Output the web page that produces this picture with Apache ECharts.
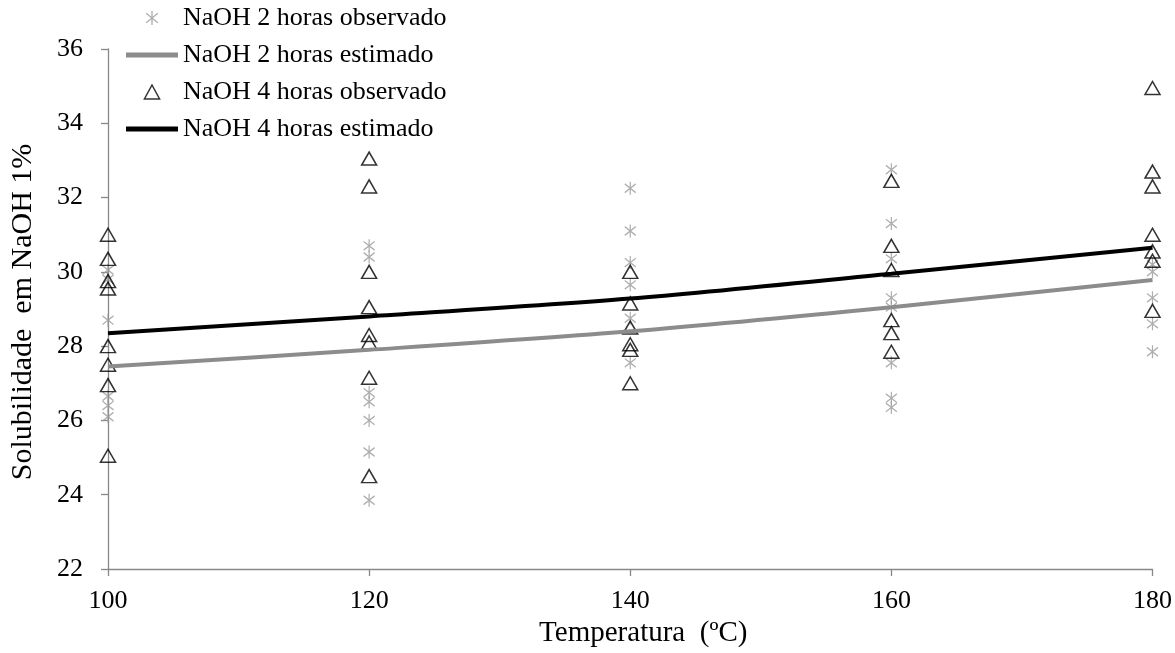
<!DOCTYPE html>
<html>
<head>
<meta charset="utf-8">
<script src="https://cdn.jsdelivr.net/npm/echarts@6/dist/echarts.min.js"></script>
<style>
html,body{margin:0;padding:0;background:#fff;}
#chart{width:1175px;height:653px;}
</style>
</head>
<body>
<div id="chart"></div>
<script>
// Temperatures (x values)
const temps = [100, 120, 140, 160, 180];

// NaOH 2 horas observado (asterisks), one list per temperature
const obs2h_100 = [30.05, 29.8, 28.7, 26.65, 26.4, 26.1];
const obs2h_120 = [30.7, 30.4, 26.75, 26.5, 26.0, 25.15, 23.85];
const obs2h_140 = [32.25, 31.1, 30.25, 29.65, 28.75, 27.55];
const obs2h_160 = [32.75, 31.3, 30.35, 29.3, 29.05, 27.55, 26.6, 26.35];
const obs2h_180 = [30.2, 30.0, 29.3, 28.6, 27.85];

// NaOH 4 horas observado (triangles)
const obs4h_100 = [31.0, 30.35, 29.75, 29.55, 28.0, 27.5, 26.95, 25.05];
const obs4h_120 = [33.05, 32.3, 30.0, 29.05, 28.3, 28.1, 27.15, 24.5];
const obs4h_140 = [30.0, 29.15, 28.5, 28.05, 27.9, 27.0];
const obs4h_160 = [32.45, 30.7, 30.05, 28.7, 28.35, 27.85];
const obs4h_180 = [34.95, 32.7, 32.3, 31.0, 30.55, 30.3, 28.95];

// Estimated curves
const est2h = [27.45, 27.9, 28.4, 29.05, 29.78];
const est4h = [28.35, 28.8, 29.28, 29.95, 30.65];

// Axis ticks
const yTicks = {min: 22, max: 36, interval: 2};
const xTicks = {min: 100, max: 180, interval: 20};

const names = ['NaOH 2 horas observado', 'NaOH 2 horas estimado', 'NaOH 4 horas observado', 'NaOH 4 horas estimado'];

function pairs(groups) {
  const out = [];
  groups.forEach((g, i) => g.forEach(v => out.push([temps[i], v])));
  return out;
}
const obs2h = pairs([obs2h_100, obs2h_120, obs2h_140, obs2h_160, obs2h_180]);
const obs4h = pairs([obs4h_100, obs4h_120, obs4h_140, obs4h_160, obs4h_180]);
const line2h = temps.map((t, i) => [t, est2h[i]]);
const line4h = temps.map((t, i) => [t, est4h[i]]);

const font = 'Liberation Serif';
const fs = 26;
const asterisk = 'path://M5,0L5,12M0,2L10,10M0,10L10,2';
const triIcon = 'path://M6.5,0L13,12L0,12Z';
const lineIcon = 'path://M0,0L52,0L52,5L0,5Z';

const chart = echarts.init(document.getElementById('chart'), null, {renderer: 'canvas'});
chart.setOption({
  animation: false,
  backgroundColor: '#fff',
  textStyle: {fontFamily: font, color: '#000'},
  grid: {left: 107, right: 22, top: 49, bottom: 82, containLabel: false},
  legend: {
    orient: 'vertical',
    left: 121,
    top: 0,
    padding: 5,
    itemWidth: 52,
    itemHeight: 14,
    itemGap: 11,
    symbolKeepAspect: true,
    data: [
      {name: names[0], icon: asterisk, itemStyle: {color: 'rgba(0,0,0,0)', borderColor: '#9a9a9a', borderWidth: 1.3}},
      {name: names[1], icon: lineIcon, itemStyle: {color: '#8c8c8c', borderWidth: 0}},
      {name: names[2], icon: triIcon, itemStyle: {color: 'rgba(0,0,0,0)', borderColor: '#000', borderWidth: 1.5}},
      {name: names[3], icon: lineIcon, itemStyle: {color: '#000', borderWidth: 0}}
    ],
    textStyle: {fontFamily: font, fontSize: fs, color: '#000', lineHeight: fs}
  },
  xAxis: {
    type: 'value',
    min: xTicks.min, max: xTicks.max, interval: xTicks.interval,
    name: 'Temperatura  (ºC)',
    nameLocation: 'middle',
    nameGap: 50,
    nameTextStyle: {fontFamily: font, fontSize: 29, color: '#000', padding: [0, 0, 0, 26]},
    axisLine: {show: true, lineStyle: {color: '#888', width: 1.3}},
    axisTick: {show: true, inside: false, length: 7, lineStyle: {color: '#888', width: 1.3}},
    axisLabel: {fontFamily: font, fontSize: fs, color: '#000', margin: 19},
    splitLine: {show: false}
  },
  yAxis: {
    type: 'value',
    min: yTicks.min, max: yTicks.max, interval: yTicks.interval,
    name: 'Solubilidade  em NaOH 1%',
    nameLocation: 'middle',
    nameGap: 70,
    nameRotate: 90,
    nameTextStyle: {fontFamily: font, fontSize: 30, color: '#000', padding: [0, 6, 0, 0]},
    axisLine: {show: true, lineStyle: {color: '#888', width: 1.3}},
    axisTick: {show: true, inside: false, length: 7, lineStyle: {color: '#888', width: 1.3}},
    axisLabel: {fontFamily: font, fontSize: fs, color: '#000', margin: 25},
    splitLine: {show: false}
  },
  series: [
    {
      name: names[0], type: 'scatter', data: obs2h,
      symbol: asterisk, symbolSize: [11, 13],
      itemStyle: {color: 'rgba(0,0,0,0)', borderColor: '#9a9a9a', borderWidth: 1.3}
    },
    {
      name: names[1], type: 'line', data: line2h, smooth: 0.3,
      symbol: 'none', showSymbol: false,
      lineStyle: {color: '#8c8c8c', width: 4},
      itemStyle: {color: '#8c8c8c'}
    },
    {
      name: names[2], type: 'scatter', data: obs4h,
      symbol: 'triangle', symbolSize: [15, 13],
      itemStyle: {color: 'rgba(0,0,0,0)', borderColor: '#000', borderWidth: 1.5}
    },
    {
      name: names[3], type: 'line', data: line4h, smooth: 0.3,
      symbol: 'none', showSymbol: false,
      lineStyle: {color: '#000', width: 4},
      itemStyle: {color: '#000'}
    }
  ]
});
</script>
</body>
</html>
